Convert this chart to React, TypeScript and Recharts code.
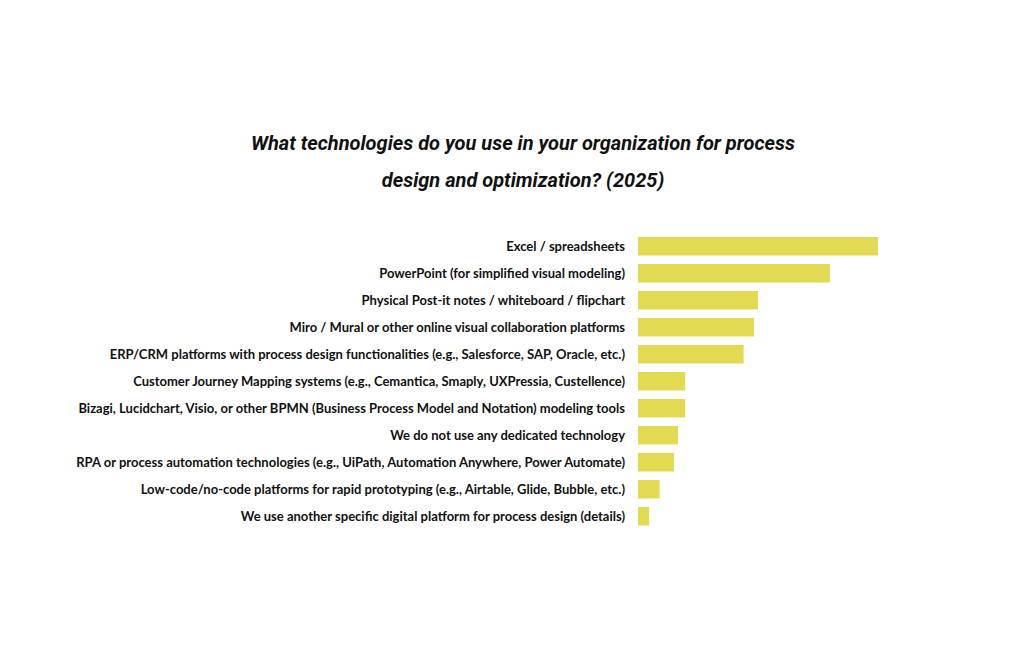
import { BarChart, Bar, XAxis, YAxis } from 'recharts'

// answer options, top to bottom
const technologies = [
  'Excel / spreadsheets',
  'PowerPoint (for simplified visual modeling)',
  'Physical Post-it notes / whiteboard / flipchart',
  'Miro / Mural or other online visual collaboration platforms',
  'ERP/CRM platforms with process design functionalities (e.g., Salesforce, SAP, Oracle, etc.)',
  'Customer Journey Mapping systems (e.g., Cemantica, Smaply, UXPressia, Custellence)',
  'Bizagi, Lucidchart, Visio, or other BPMN  (Business Process Model and Notation) modeling tools',
  'We do not use any dedicated technology',
  'RPA or process automation technologies (e.g., UiPath, Automation Anywhere, Power Automate)',
  'Low-code/no-code platforms for rapid prototyping (e.g., Airtable, Glide, Bubble, etc.)',
  'We use another specific digital platform for process design (details)',
]
// share of respondents (%)
const shares = [60, 48, 30, 29, 26.4, 11.8, 11.8, 10, 9, 5.4, 2.8]

const data = technologies.map((name, i) => ({ name, value: shares[i] }))

const titleLines = [
  'What technologies do you use in your organization for process',
  'design and optimization? (2025)',
]

export default function App() {
  return (
    <div style={{ position: 'absolute', left: 0, top: 0, width: 1024, height: 661, background: '#fff' }}>
      <div style={{
        position: 'absolute', left: 0, width: 1046, top: 125, textAlign: 'center',
        fontFamily: 'Roboto, sans-serif', fontStyle: 'italic', fontWeight: 700,
        fontSize: 20, lineHeight: '37px', color: '#111',
      }}>
        {titleLines.map(l => <div key={l}>{l}</div>)}
      </div>
      <BarChart width={1024} height={661} data={data} layout="vertical"
        margin={{ top: 233, right: 146, left: 0, bottom: 131 }} barSize={18.5}>
        <XAxis type="number" domain={[0, 60]} hide />
        <YAxis type="category" dataKey="name" width={638} axisLine={false} tickLine={false}
          tickSize={0} tickMargin={13} interval={0}
          tick={{ fontSize: 13, fill: '#111', fontFamily: 'Lato, sans-serif', fontWeight: 700 }} />
        <Bar dataKey="value" fill="#e3da54" isAnimationActive={false} />
      </BarChart>
    </div>
  )
}
